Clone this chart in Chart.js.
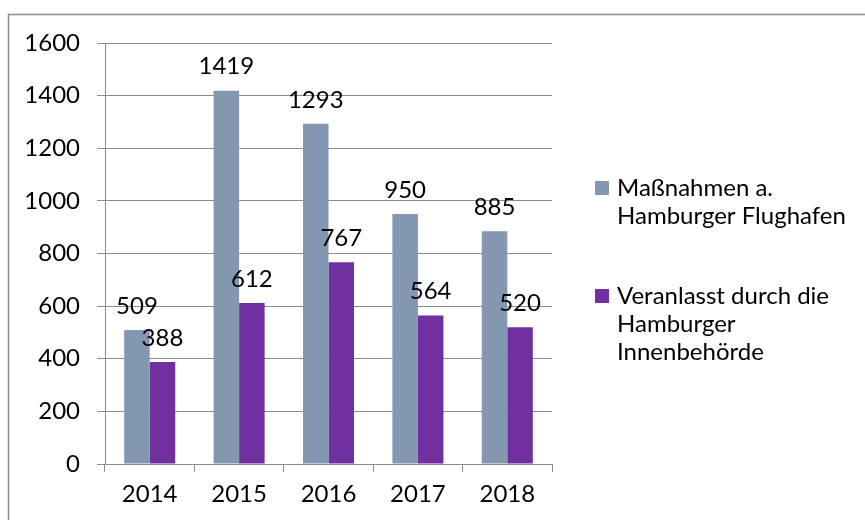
<!DOCTYPE html>
<html>
<head>
<meta charset="utf-8">
<script src="https://cdn.jsdelivr.net/npm/chart.js@4"></script>
<style>
html,body{margin:0;padding:0;background:#fff;}
#wrap{position:relative;width:865px;height:520px;}
</style>
</head>
<body>
<div id="wrap"><canvas id="c" width="865" height="520"></canvas></div>
<script>
const categories = ['2014', '2015', '2016', '2017', '2018'];
const seriesNames = [
  ['Maßnahmen a.', 'Hamburger Flughafen'],
  ['Veranlasst durch die', 'Hamburger', 'Innenbehörde']
];
const flughafen = [509, 1419, 1293, 950, 885];
const innenbehoerde = [388, 612, 767, 564, 520];
const yTicks = [0, 200, 400, 600, 800, 1000, 1200, 1400, 1600];

const FONT = 'Lato, "Open Sans", sans-serif';
const FS = 24;
const colors = ['#8497B0', '#7030A0'];

const frame = {
  id: 'frame',
  beforeDraw(chart) {
    const ctx = chart.ctx;
    ctx.save();
    ctx.fillStyle = '#fff';
    ctx.fillRect(0, 0, chart.width, chart.height);
    ctx.strokeStyle = '#8c8c8c';
    ctx.lineWidth = 1.5;
    ctx.strokeRect(8.5, 14.5, 900, 600);
    ctx.restore();
  }
};

const valueLabels = {
  id: 'valueLabels',
  afterDatasetsDraw(chart) {
    const ctx = chart.ctx;
    ctx.save();
    ctx.font = FS + 'px ' + FONT;
    ctx.fillStyle = '#000';
    ctx.textAlign = 'center';
    ctx.textBaseline = 'middle';
    chart.data.datasets.forEach((ds, i) => {
      chart.getDatasetMeta(i).data.forEach((bar, j) => {
        ctx.fillText(String(ds.data[j]), bar.x, bar.y - 24);
      });
    });
    ctx.restore();
  }
};

const customLegend = {
  id: 'customLegend',
  afterDraw(chart) {
    const ctx = chart.ctx;
    ctx.save();
    ctx.font = FS + 'px ' + FONT;
    ctx.fillStyle = '#000';
    ctx.textAlign = 'left';
    ctx.textBaseline = 'middle';
    const starts = [188, 296];
    chart.data.datasets.forEach((ds, i) => {
      const lines = seriesNames[i];
      ctx.fillStyle = ds.backgroundColor;
      ctx.fillRect(595, starts[i] - 7, 14, 14);
      ctx.fillStyle = '#000';
      lines.forEach((ln, k) => {
        ctx.fillText(ln, 617, starts[i] + k * 28);
      });
    });
    ctx.restore();
  }
};

new Chart(document.getElementById('c'), {
  type: 'bar',
  data: {
    labels: categories,
    datasets: [
      { label: seriesNames[0].join(' '), data: flughafen, backgroundColor: colors[0], categoryPercentage: 0.571, barPercentage: 1.0 },
      { label: seriesNames[1].join(' '), data: innenbehoerde, backgroundColor: colors[1], categoryPercentage: 0.571, barPercentage: 1.0 }
    ]
  },
  options: {
    responsive: false,
    animation: false,
    devicePixelRatio: 1,
    layout: { padding: { left: 0, top: 43, right: 313, bottom: 0 } },
    plugins: {
      legend: { display: false },
      title: { display: false },
      tooltip: { enabled: false }
    },
    scales: {
      x: {
        afterFit(s) { s.height = 56; },
        grid: { display: true, drawOnChartArea: false, drawTicks: true, tickLength: 8, color: '#8c8c8c', offset: true },
        border: { display: true, color: '#8c8c8c', width: 1 },
        ticks: { font: { family: FONT, size: FS }, color: '#000', padding: 8 }
      },
      y: {
        min: 0, max: 1600,
        afterFit(s) { s.width = 105; },
        afterBuildTicks(s) { s.ticks = yTicks.map(v => ({ value: v })); },
        grid: { color: '#8c8c8c', drawTicks: true, tickLength: 8 },
        border: { display: true, color: '#8c8c8c', width: 1 },
        ticks: { font: { family: FONT, size: FS }, color: '#000', padding: 17, callback: v => String(v) }
      }
    }
  },
  plugins: [frame, valueLabels, customLegend]
});
</script>
</body>
</html>
